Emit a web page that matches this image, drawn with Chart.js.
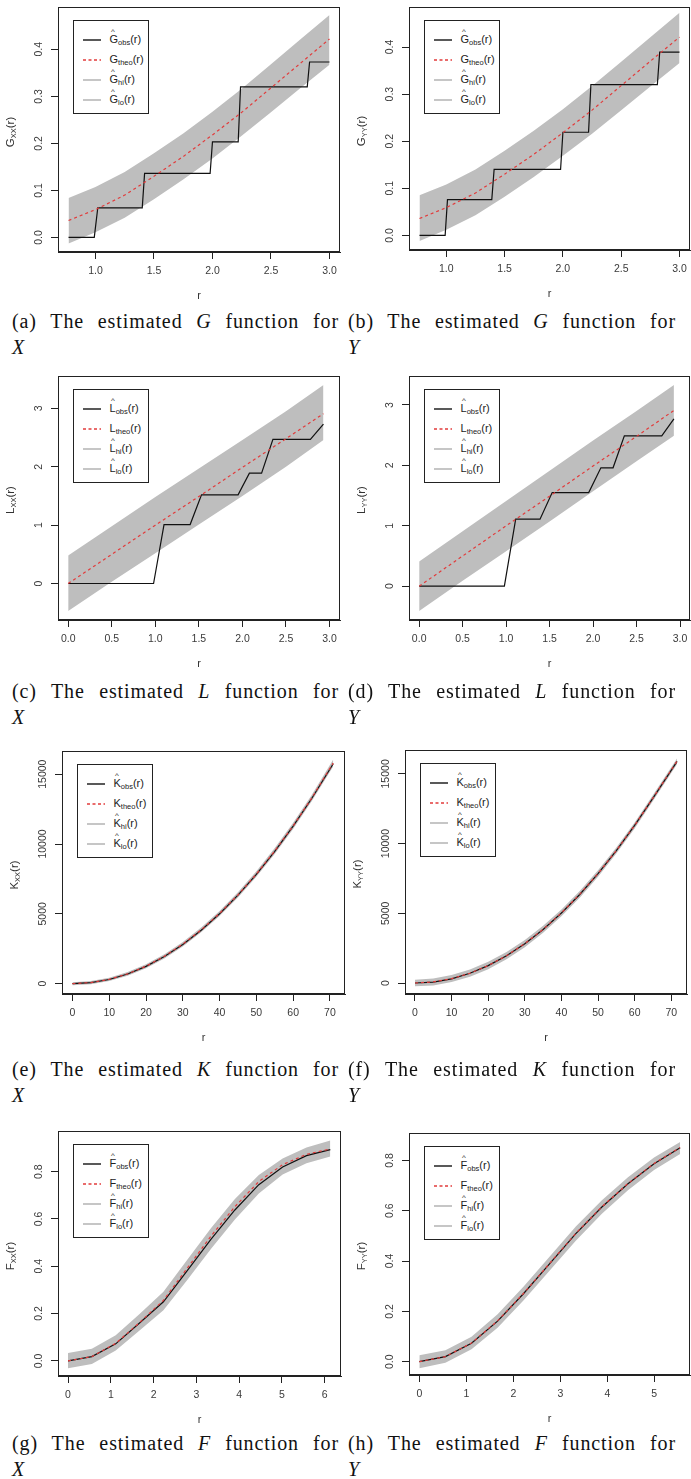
<!DOCTYPE html>
<html lang="en">
<head>
<meta charset="UTF-8">
<title>Estimated G, L, K and F functions</title>
<script src="https://cdn.jsdelivr.net/npm/chart.js"></script>
<style>
  body { margin: 0; background: #fff; width: 691px; height: 1479px; position: relative; overflow: hidden;
         font-family: "Liberation Sans", Arial, sans-serif; }
  canvas { position: absolute; }
  .legend { position: absolute; width: 74px; height: 92px; border: 1px solid #222; background: #fff; z-index: 2; }
  .smp { position: absolute; left: 9px; width: 18px; height: 4px; }
  .lab { position: absolute; left: 36px; font-size: 11px; line-height: 12px; color: #222; white-space: nowrap; }
  .lab sub, .ytitle sub { font-size: 7.5px; vertical-align: -2px; }
  .h { position: relative; display: inline-block; }
  .h .c { position: absolute; left: 1.5px; top: -5px; font-size: 8px; line-height: 8px; }
  .ytitle { position: absolute; width: 120px; text-align: center; font-size: 11.5px; line-height: 14px; color: #333;
            transform: rotate(-90deg); z-index: 2; white-space: nowrap; }
  .cap { position: absolute; font-family: "Liberation Serif", "Times New Roman", serif; font-size: 20px;
         line-height: 26px; color: #111; letter-spacing: 0.9px; z-index: 2; }
  .cap .l1 { text-align: justify; text-align-last: justify; }
</style>
</head>
<body>
<script>
// ---- G function (a: X, b: Y) ----
const gxBandR = [0.77, 1.0, 1.25, 1.5, 1.75, 2.0, 2.25, 2.5, 2.75, 3.0];
const gxHi = [0.084, 0.107, 0.139, 0.179, 0.221, 0.267, 0.316, 0.368, 0.421, 0.473];
const gxLo = [-0.013, 0.011, 0.042, 0.081, 0.123, 0.168, 0.216, 0.266, 0.317, 0.367];
const gxTheo = [0.036, 0.059, 0.090, 0.130, 0.172, 0.218, 0.266, 0.318, 0.370, 0.422];
const gxObsR = [0.77, 0.99, 1.02, 1.40, 1.42, 1.98, 2.00, 2.22, 2.24, 2.81, 2.83, 3.0];
const gxObs = [0, 0, 0.063, 0.063, 0.136, 0.136, 0.203, 0.203, 0.320, 0.320, 0.373, 0.373];

const gyBandR = [0.77, 1.0, 1.25, 1.5, 1.75, 2.0, 2.25, 2.5, 2.75, 3.0];
const gyHi = [0.085, 0.108, 0.140, 0.180, 0.222, 0.268, 0.317, 0.369, 0.421, 0.473];
const gyLo = [-0.012, 0.012, 0.043, 0.082, 0.124, 0.169, 0.216, 0.266, 0.316, 0.366];
const gyTheo = [0.036, 0.059, 0.090, 0.130, 0.172, 0.218, 0.266, 0.318, 0.370, 0.421];
const gyObsR = [0.77, 0.99, 1.01, 1.39, 1.41, 1.98, 2.00, 2.22, 2.24, 2.81, 2.83, 3.0];
const gyObs = [0, 0, 0.076, 0.076, 0.140, 0.140, 0.219, 0.219, 0.320, 0.320, 0.389, 0.389];

// ---- L function (c: X, d: Y) ----
const lxBandR = [0, 0.5, 1.0, 1.5, 2.0, 2.5, 2.93];
const lxHi = [0.48, 0.98, 1.48, 1.97, 2.46, 2.95, 3.40];
const lxLo = [-0.47, 0.03, 0.52, 1.01, 1.50, 2.00, 2.46];
const lxTheo = [0, 0.50, 1.00, 1.49, 1.99, 2.48, 2.91];
const lxObsR = [0, 0.98, 1.10, 1.40, 1.53, 1.95, 2.08, 2.22, 2.35, 2.78, 2.93];
const lxObs = [0, 0, 1.01, 1.01, 1.52, 1.52, 1.89, 1.89, 2.47, 2.47, 2.73];

const lyBandR = [0, 0.5, 1.0, 1.5, 2.0, 2.5, 2.93];
const lyHi = [0.41, 0.91, 1.41, 1.91, 2.41, 2.90, 3.33];
const lyLo = [-0.41, 0.09, 0.58, 1.07, 1.57, 2.07, 2.49];
const lyTheo = [0, 0.50, 1.00, 1.49, 1.99, 2.48, 2.91];
const lyObsR = [0, 0.98, 1.11, 1.39, 1.53, 1.95, 2.09, 2.23, 2.36, 2.79, 2.93];
const lyObs = [0, 0, 1.11, 1.11, 1.55, 1.55, 1.96, 1.96, 2.49, 2.49, 2.77];

// ---- K function (e: X, f: Y) ----
const kxR = [0, 5, 10, 15, 20, 25, 30, 35, 40, 45, 50, 55, 60, 65, 70.9];
const kxTheo = [0, 80, 310, 700, 1250, 1960, 2830, 3850, 5030, 6360, 7850, 9500, 11300, 13270, 15800];
const kxObs = [0, 70, 300, 690, 1240, 1950, 2810, 3830, 5010, 6340, 7830, 9480, 11280, 13240, 15750];
const kxHi = [110, 190, 430, 830, 1390, 2110, 2990, 4020, 5210, 6550, 8050, 9710, 11520, 13500, 16050];
const kxLo = [-110, -40, 190, 570, 1110, 1810, 2670, 3680, 4850, 6170, 7650, 9290, 11080, 13040, 15550];

const kyR = [0, 5, 10, 15, 20, 25, 30, 35, 40, 45, 50, 55, 60, 65, 71.6];
const kyTheo = [0, 80, 310, 700, 1250, 1960, 2830, 3850, 5030, 6360, 7850, 9500, 11300, 13270, 15920];
const kyObs = [0, 70, 300, 700, 1250, 1960, 2820, 3840, 5020, 6350, 7850, 9500, 11300, 13260, 15900];
const kyHi = [240, 330, 570, 970, 1520, 2230, 3090, 4100, 5270, 6600, 8080, 9720, 11520, 13480, 16120];
const kyLo = [-240, -170, 70, 450, 990, 1700, 2570, 3600, 4790, 6120, 7620, 9280, 11080, 13060, 15700];

// ---- F function (g: X, h: Y) ----
const fxR = [0, 0.557, 1.115, 1.672, 2.23, 2.787, 3.344, 3.9, 4.459, 5.016, 5.573, 6.13];
const fxObs = [0, 0.018, 0.072, 0.160, 0.250, 0.382, 0.515, 0.638, 0.745, 0.820, 0.868, 0.893];
const fxTheo = [0, 0.018, 0.074, 0.162, 0.256, 0.392, 0.528, 0.652, 0.758, 0.830, 0.873, 0.896];
const fxHi = [0.033, 0.051, 0.108, 0.198, 0.292, 0.428, 0.562, 0.684, 0.786, 0.856, 0.902, 0.932];
const fxLo = [-0.031, -0.013, 0.044, 0.128, 0.214, 0.342, 0.474, 0.598, 0.708, 0.788, 0.836, 0.864];

const fyR = [0, 0.555, 1.11, 1.665, 2.22, 2.775, 3.33, 3.885, 4.44, 4.995, 5.55];
const fyObs = [0, 0.020, 0.073, 0.161, 0.271, 0.390, 0.509, 0.615, 0.707, 0.787, 0.850];
const fyTheo = [0, 0.020, 0.074, 0.162, 0.272, 0.391, 0.510, 0.616, 0.708, 0.788, 0.851];
const fyHi = [0.026, 0.045, 0.099, 0.188, 0.299, 0.418, 0.537, 0.642, 0.733, 0.812, 0.873];
const fyLo = [-0.026, -0.004, 0.049, 0.135, 0.244, 0.362, 0.481, 0.588, 0.681, 0.762, 0.826];

// ---- ticks ----
const gTicksX = [1.0, 1.5, 2.0, 2.5, 3.0];
const gLabelsX = ['1.0', '1.5', '2.0', '2.5', '3.0'];
const gTicksY = [0, 0.1, 0.2, 0.3, 0.4];
const gLabelsY = ['0.0', '0.1', '0.2', '0.3', '0.4'];
const lTicksX = [0, 0.5, 1.0, 1.5, 2.0, 2.5, 3.0];
const lLabelsX = ['0.0', '0.5', '1.0', '1.5', '2.0', '2.5', '3.0'];
const lTicksY = [0, 1, 2, 3];
const lLabelsY = ['0', '1', '2', '3'];
const kTicksX = [0, 10, 20, 30, 40, 50, 60, 70];
const kLabelsX = ['0', '10', '20', '30', '40', '50', '60', '70'];
const kTicksY = [0, 5000, 10000, 15000];
const kLabelsY = ['0', '5000', '10000', '15000'];
const fxTicksX = [0, 1, 2, 3, 4, 5, 6];
const fxLabelsX = ['0', '1', '2', '3', '4', '5', '6'];
const fyTicksX = [0, 1, 2, 3, 4, 5];
const fyLabelsX = ['0', '1', '2', '3', '4', '5'];
const fTicksY = [0, 0.2, 0.4, 0.6, 0.8];
const fLabelsY = ['0.0', '0.2', '0.4', '0.6', '0.8'];

const RED = '#e23b3b';
const BAND = '#bebebe';

const panels = [
  { tag: 'a', fn: 'G', who: 'X', col: 0, box: [58, 7, 340, 252], xr: [0.68, 3.09], yr: [-0.031, 0.49], capTop: 308,
    bandR: gxBandR, hi: gxHi, lo: gxLo, theoR: gxBandR, theo: gxTheo, obsR: gxObsR, obs: gxObs,
    xt: gTicksX, xl: gLabelsX, yt: gTicksY, yl: gLabelsY },
  { tag: 'b', fn: 'G', who: 'Y', col: 345, box: [409, 7, 690, 250], xr: [0.68, 3.09], yr: [-0.031, 0.485], capTop: 308,
    bandR: gyBandR, hi: gyHi, lo: gyLo, theoR: gyBandR, theo: gyTheo, obsR: gyObsR, obs: gyObs,
    xt: gTicksX, xl: gLabelsX, yt: gTicksY, yl: gLabelsY },
  { tag: 'c', fn: 'L', who: 'X', col: 0, box: [58, 376, 340, 620], xr: [-0.117, 3.12], yr: [-0.625, 3.555], capTop: 678,
    bandR: lxBandR, hi: lxHi, lo: lxLo, theoR: lxBandR, theo: lxTheo, obsR: lxObsR, obs: lxObs,
    xt: lTicksX, xl: lLabelsX, yt: lTicksY, yl: lLabelsY },
  { tag: 'd', fn: 'L', who: 'Y', col: 345, box: [409, 376, 690, 620], xr: [-0.117, 3.115], yr: [-0.56, 3.48], capTop: 678,
    bandR: lyBandR, hi: lyHi, lo: lyLo, theoR: lyBandR, theo: lyTheo, obsR: lyObsR, obs: lyObs,
    xt: lTicksX, xl: lLabelsX, yt: lTicksY, yl: lLabelsY },
  { tag: 'e', fn: 'K', who: 'X', col: 0, box: [62, 751, 345, 994], xr: [-2.84, 74.1], yr: [-740, 16660], capTop: 1056,
    bandR: kxR, hi: kxHi, lo: kxLo, theoR: kxR, theo: kxTheo, obsR: kxR, obs: kxObs,
    xt: kTicksX, xl: kLabelsX, yt: kTicksY, yl: kLabelsY },
  { tag: 'f', fn: 'K', who: 'Y', col: 345, box: [405, 750, 687, 994], xr: [-2.73, 74.3], yr: [-788, 16712], capTop: 1056,
    bandR: kyR, hi: kyHi, lo: kyLo, theoR: kyR, theo: kyTheo, obsR: kyR, obs: kyObs,
    xt: kTicksX, xl: kLabelsX, yt: kTicksY, yl: kLabelsY },
  { tag: 'g', fn: 'F', who: 'X', col: 0, box: [58, 1131, 341, 1376], xr: [-0.234, 6.38], yr: [-0.064, 0.972], capTop: 1430,
    bandR: fxR, hi: fxHi, lo: fxLo, theoR: fxR, theo: fxTheo, obsR: fxR, obs: fxObs,
    xt: fxTicksX, xl: fxLabelsX, yt: fTicksY, yl: fLabelsY },
  { tag: 'h', fn: 'F', who: 'Y', col: 345, box: [409, 1133, 690, 1375], xr: [-0.22, 5.76], yr: [-0.053, 0.909], capTop: 1430,
    bandR: fyR, hi: fyHi, lo: fyLo, theoR: fyR, theo: fyTheo, obsR: fyR, obs: fyObs,
    xt: fyTicksX, xl: fyLabelsX, yt: fTicksY, yl: fLabelsY }
];

function pts(xs, ys) { return xs.map((x, i) => ({ x: x, y: ys[i] })); }

// box around the plot region plus vertical y tick labels (R style)
function framePlugin(yLabels) {
  return {
    id: 'frame',
    afterDraw(chart) {
      const { ctx, chartArea: a } = chart;
      const y = chart.scales.y;
      ctx.save();
      ctx.strokeStyle = '#222';
      ctx.lineWidth = 1;
      ctx.strokeRect(Math.round(a.left) + 0.5, Math.round(a.top) + 0.5, Math.round(a.width) - 1, Math.round(a.height) - 1);
      ctx.fillStyle = '#3a3a3a';
      ctx.font = '10.5px "Liberation Sans", Arial, sans-serif';
      ctx.textAlign = 'center';
      ctx.textBaseline = 'middle';
      y.ticks.forEach((t, i) => {
        ctx.save();
        ctx.translate(a.left - 19, y.getPixelForValue(t.value));
        ctx.rotate(-Math.PI / 2);
        ctx.fillText(yLabels[i], 0, 0);
        ctx.restore();
      });
      ctx.restore();
    }
  };
}

function hat(letter) { return '<span class="h">' + letter + '<span class="c">^</span></span>'; }

// little legend key drawn as svg line
function sample(color, width, dash) {
  return '<svg class="smp" viewBox="0 0 18 4" width="18" height="4"><line x1="0" y1="2" x2="18" y2="2" stroke="' + color +
    '" stroke-width="' + width + '"' + (dash ? ' stroke-dasharray="3 2.5"' : '') + '/></svg>';
}

function addOverlays(p) {
  const [l, t, r, b] = p.box;
  // y axis title
  const yt = document.createElement('div');
  yt.className = 'ytitle';
  yt.style.left = (l - 46 - 60) + 'px';
  yt.style.top = ((t + b) / 2 - 7) + 'px';
  yt.innerHTML = p.fn + '<sub>' + p.who + p.who + '</sub>(r)';
  document.body.appendChild(yt);

  // legend
  const lg = document.createElement('div');
  lg.className = 'legend';
  lg.style.left = (l + 14.5) + 'px';
  lg.style.top = (t + 12.5) + 'px';
  const rows = [
    [hat(p.fn), 'obs', sample('#222', 1.5, false)],
    [p.fn, 'theo', sample(RED, 1.5, true)],
    [hat(p.fn), 'hi', sample('#c6c6c6', 2, false)],
    [hat(p.fn), 'lo', sample('#c6c6c6', 2, false)]
  ];
  rows.forEach((row, i) => {
    const cy = 19 + i * 20;
    const key = row[2].replace('class="smp"', 'class="smp" style="top:' + (cy - 2) + 'px"');
    lg.insertAdjacentHTML('beforeend', key +
      '<span class="lab" style="top:' + (cy - 7) + 'px">' + row[0] + '<sub>' + row[1] + '</sub>(r)</span>');
  });
  document.body.appendChild(lg);

  // caption
  const cap = document.createElement('div');
  cap.className = 'cap';
  cap.style.left = (p.col === 0 ? 12 : 348) + 'px';
  cap.style.width = (p.col === 0 ? 327 : 328) + 'px';
  cap.style.top = p.capTop + 'px';
  cap.innerHTML = '<div class="l1">(' + p.tag + ') The estimated <i>' + p.fn + '</i> function for</div><div><i>' + p.who + '</i></div>';
  document.body.appendChild(cap);
}

panels.forEach(p => {
  const [l, t, r, b] = p.box;
  const cv = document.createElement('canvas');
  cv.width = r - p.col + 4;
  cv.height = b - t + 62;
  cv.style.left = p.col + 'px';
  cv.style.top = (t - 10) + 'px';
  document.body.appendChild(cv);

  new Chart(cv, {
    type: 'line',
    data: {
      datasets: [
        { label: 'theo', data: pts(p.theoR, p.theo), borderColor: RED, borderDash: [3, 3], borderWidth: 1.2 },
        { label: 'obs', data: pts(p.obsR, p.obs), borderColor: '#111', borderWidth: 1.2 },
        { label: 'hi', data: pts(p.bandR, p.hi), borderColor: 'transparent', borderWidth: 0, fill: '+1', backgroundColor: BAND },
        { label: 'lo', data: pts(p.bandR, p.lo), borderColor: 'transparent', borderWidth: 0 }
      ]
    },
    options: {
      responsive: false,
      animation: false,
      devicePixelRatio: 1,
      layout: { padding: { top: 10, right: 4, left: 0, bottom: 0 } },
      elements: { point: { radius: 0 }, line: { tension: 0 } },
      plugins: { legend: { display: false }, tooltip: { enabled: false } },
      scales: {
        x: {
          type: 'linear', min: p.xr[0], max: p.xr[1],
          afterBuildTicks: s => { s.ticks = p.xt.map(v => ({ value: v })); },
          afterFit: s => { s.height = 52; },
          grid: { drawOnChartArea: false, drawTicks: true, tickLength: 7, color: '#222' },
          border: { display: true, color: '#222' },
          ticks: { callback: (v, i) => p.xl[i], color: '#3a3a3a', padding: 6, maxRotation: 0, autoSkip: false,
                   font: { family: '"Liberation Sans", Arial, sans-serif', size: 10.5 } },
          title: { display: true, text: 'r', color: '#333', padding: { top: 0, bottom: 1 },
                   font: { family: '"Liberation Sans", Arial, sans-serif', size: 11 } }
        },
        y: {
          type: 'linear', min: p.yr[0], max: p.yr[1],
          afterBuildTicks: s => { s.ticks = p.yt.map(v => ({ value: v })); },
          afterFit: s => { s.width = l - p.col; },
          grid: { drawOnChartArea: false, drawTicks: true, tickLength: 7, color: '#222' },
          border: { display: true, color: '#222' },
          ticks: { display: false }
        }
      }
    },
    plugins: [framePlugin(p.yl)]
  });

  addOverlays(p);
});
</script>
</body>
</html>
